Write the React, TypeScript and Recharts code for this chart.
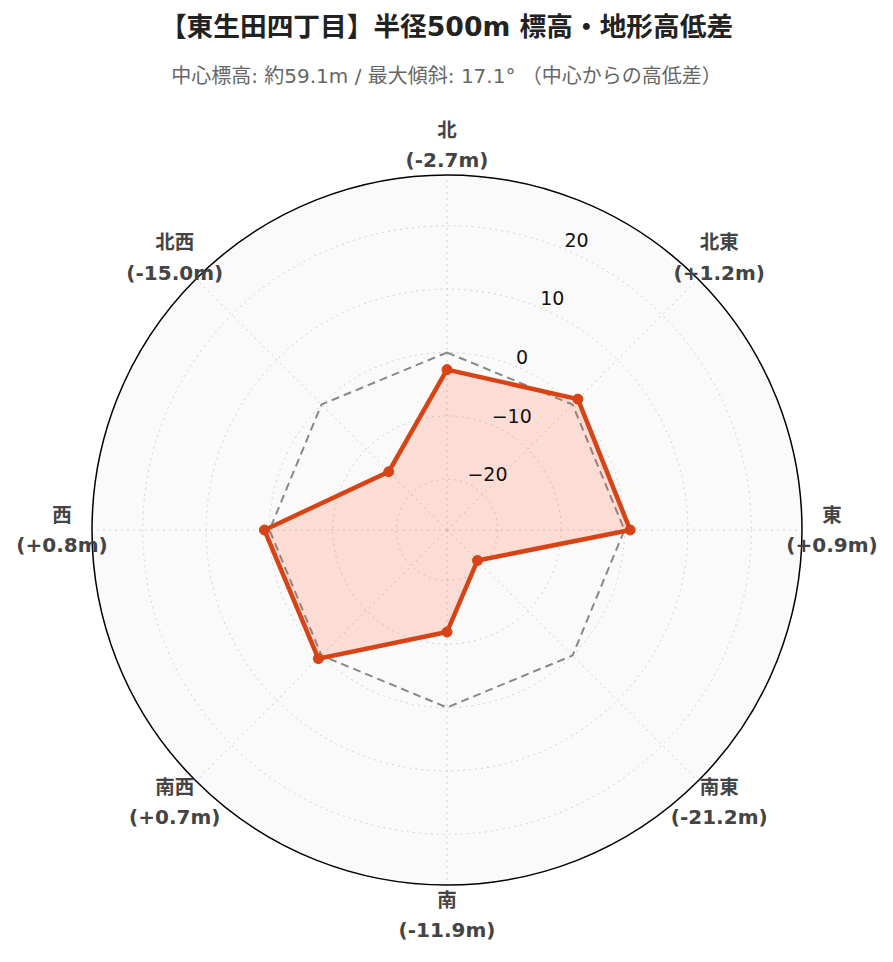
import React from "react";
import {
  RadarChart,
  Radar,
  PolarGrid,
  PolarAngleAxis,
  PolarRadiusAxis,
} from "recharts";

const DIRECTIONS = ["北", "北東", "東", "南東", "南", "南西", "西", "北西"];
const DIFFS = [-2.7, 1.2, 0.9, -21.2, -11.9, 0.7, 0.8, -15.0];
const BASELINE = [0, 0, 0, 0, 0, 0, 0, 0];
const RADIAL_TICKS = [-20, -10, 0, 10, 20];
const RADIAL_DOMAIN: [number, number] = [-28, 28];

const TITLE = "【東生田四丁目】半径500m 標高・地形高低差";
const SUBTITLE = "中心標高: 約59.1m / 最大傾斜: 17.1° （中心からの高低差）";

const FONT = '"DejaVu Sans", "Noto Sans CJK JP", sans-serif';
const ACCENT = "#D84315";

const W = 893;
const H = 962;
const CX = 447;
const CY = 530;
const R = 355;

const data = DIRECTIONS.map((dir, i) => ({
  dir,
  diff: DIFFS[i],
  base: BASELINE[i],
}));

const fmtDiff = (v: number) => `(${v >= 0 ? "+" : ""}${v.toFixed(1)}m)`;
const fmtTick = (v: number) => (v < 0 ? `\u2212${Math.abs(v)}` : `${v}`);

const AngleTick = (props: any) => {
  const { x, y, payload } = props;
  const i = DIRECTIONS.indexOf(payload.value);
  return (
    <g>
      <text
        x={x}
        y={y - 15}
        textAnchor="middle"
        dominantBaseline="central"
        fontSize={19.5}
        fontWeight="bold"
        fill="#444"
        fontFamily={FONT}
      >
        {payload.value}
      </text>
      <text
        x={x}
        y={y + 15}
        textAnchor="middle"
        dominantBaseline="central"
        fontSize={20}
        fontWeight="bold"
        fill="#444"
        fontFamily={FONT}
      >
        {fmtDiff(DIFFS[i])}
      </text>
    </g>
  );
};

const RadiusTick = (props: any) => {
  const { x, y, payload } = props;
  return (
    <text
      x={x + 1}
      y={y - 9}
      textAnchor="start"
      dominantBaseline="central"
      fontSize={19}
      fill="#111"
      fontFamily={FONT}
    >
      {fmtTick(payload.value)}
    </text>
  );
};

export default function App() {
  return (
    <div
      style={{
        position: "absolute",
        left: 0,
        top: 0,
        width: W,
        height: H,
        background: "#fff",
        fontFamily: FONT,
      }}
    >
      <div
        style={{
          position: "absolute",
          top: 11,
          width: W,
          textAlign: "center",
          fontSize: 26.7,
          lineHeight: "32px",
          fontWeight: "bold",
          color: "#222",
        }}
      >
        {TITLE}
      </div>
      <div
        style={{
          position: "absolute",
          top: 63,
          width: W,
          textAlign: "center",
          fontSize: 20,
          lineHeight: "26px",
          color: "#666",
        }}
      >
        {SUBTITLE}
      </div>
      {/* plot background */}
      <div
        style={{
          position: "absolute",
          left: CX - R,
          top: CY - R,
          width: 2 * R,
          height: 2 * R,
          borderRadius: "50%",
          background: "#fafafa",
        }}
      />
      <div style={{ position: "absolute", left: 0, top: 0 }}>
        <RadarChart
          width={W}
          height={H}
          data={data}
          cx={CX}
          cy={CY}
          outerRadius={R}
          startAngle={90}
          endAngle={-270}
        >
          <PolarGrid
            gridType="circle"
            stroke="#d0d0d0"
            strokeDasharray="2 4"
          />
          <PolarAngleAxis
            dataKey="dir"
            axisLineType="circle"
            axisLine={{ stroke: "#000", strokeWidth: 1.5 }}
            tickLine={false}
            tickSize={30}
            tick={<AngleTick />}
          />
          <Radar
            dataKey="base"
            stroke="#888"
            strokeWidth={2}
            strokeDasharray="8 5"
            fill="none"
            fillOpacity={0}
            dot={false}
            isAnimationActive={false}
          />
          <Radar
            dataKey="diff"
            stroke={ACCENT}
            strokeWidth={4.5}
            fill="#FF5A2E"
            fillOpacity={0.18}
            dot={{ r: 5, fill: ACCENT, stroke: ACCENT, strokeWidth: 1, fillOpacity: 1 }}
            isAnimationActive={false}
          />
          <PolarRadiusAxis
            angle={67.5}
            domain={RADIAL_DOMAIN}
            ticks={RADIAL_TICKS as any}
            allowDataOverflow
            axisLine={false}
            tickLine={false}
            tick={<RadiusTick />}
          />
        </RadarChart>
      </div>
    </div>
  );
}
